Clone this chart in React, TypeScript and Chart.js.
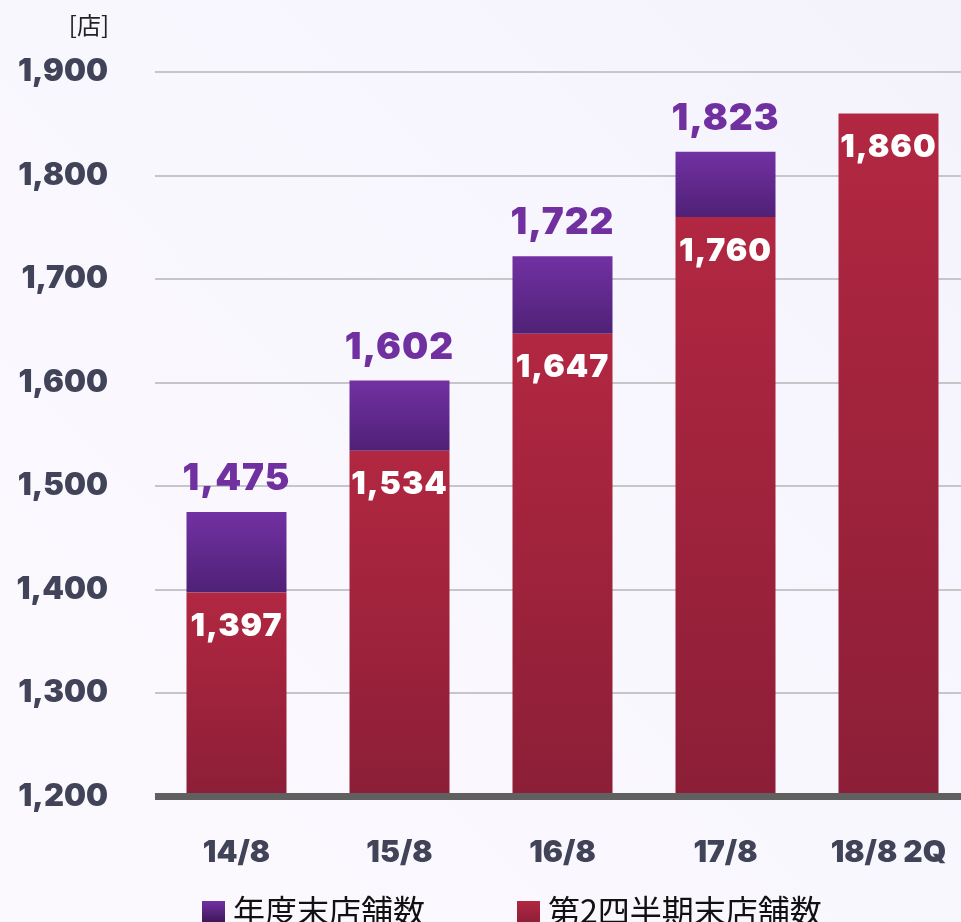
import React, { useEffect, useRef } from "react";
import { Chart, registerables } from "chart.js";

Chart.register(...registerables);

const categories = ["14/8", "15/8", "16/8", "17/8", "18/8 2Q"];
const q2Stores = [1397, 1534, 1647, 1760, 1860];
const yearEndStores: (number | null)[] = [1475, 1602, 1722, 1823, null];
const yTicks = [1200, 1300, 1400, 1500, 1600, 1700, 1800, 1900];
const unitLabel = "[店]";
const legendYearEnd = "年度末店舗数";
const legendQ2 = "第2四半期末店舗数";

const NUM_FONT = "Inter, 'DejaVu Sans', sans-serif";
const JP_FONT = "'Noto Sans CJK JP', sans-serif";

const fmt = (v: number) => v.toLocaleString("en-US");

export default function App() {
  const ref = useRef<HTMLCanvasElement | null>(null);

  useEffect(() => {
    document.body.style.margin = "0";
    const canvas = ref.current;
    if (!canvas) return;

    const ok = (...n: number[]) => n.every((v) => Number.isFinite(v));

    const redGrad = (ctx: any) => {
      const chart = ctx.chart;
      const area = chart.chartArea;
      const y = chart.scales?.y;
      const i = ctx.dataIndex;
      if (!area || !y || i === undefined) return "#a82340";
      const top = y.getPixelForValue(q2Stores[i]);
      if (!ok(top, area.bottom) || top >= area.bottom) return "#a82340";
      const g = chart.ctx.createLinearGradient(0, top, 0, area.bottom);
      g.addColorStop(0, "#b22741");
      g.addColorStop(1, "#8c1e37");
      return g;
    };
    const purpleGrad = (ctx: any) => {
      const chart = ctx.chart;
      const y = chart.scales?.y;
      const i = ctx.dataIndex;
      if (!y || i === undefined || yearEndStores[i] == null) return "#6a2c9a";
      const top = y.getPixelForValue(yearEndStores[i] as number);
      const bottom = y.getPixelForValue(q2Stores[i]);
      if (!ok(top, bottom) || top >= bottom) return "#6a2c9a";
      const g = chart.ctx.createLinearGradient(0, top, 0, bottom);
      g.addColorStop(0, "#7231a3");
      g.addColorStop(1, "#4f2176");
      return g;
    };

    const overlay = {
      id: "overlay",
      afterDatasetsDraw(chart: any) {
        const c = chart.ctx;
        const area = chart.chartArea;
        const x = chart.scales.x;
        const y = chart.scales.y;
        c.save();
        const ay = y.getPixelForValue(1200);
        c.fillStyle = "#606060";
        c.fillRect(area.left, ay - 3.5, chart.width - area.left, 7);

        c.textAlign = "center";
        c.textBaseline = "middle";
        try { (c as any).letterSpacing = "1px"; } catch (e) {}
        categories.forEach((_, i) => {
          const cx = x.getPixelForValue(i);
          c.font = `900 32px ${NUM_FONT}`;
          c.fillStyle = "#ffffff";
          const ry = y.getPixelForValue(q2Stores[i]);
          c.fillText(fmt(q2Stores[i]), cx, ry + 34);
          const ye = yearEndStores[i];
          if (ye != null) {
            c.font = `900 37px ${NUM_FONT}`;
            c.fillStyle = "#7030a0";
            const py = y.getPixelForValue(ye);
            c.fillText(fmt(ye), cx, py - 33);
          }
        });
        try { (c as any).letterSpacing = "0px"; } catch (e) {}

        c.font = `24px ${JP_FONT}`;
        c.fillStyle = "#222222";
        c.textAlign = "right";
        c.fillText(unitLabel, 109, 25);

        const drawItem = (sx: number, text: string, c1: string, c2: string) => {
          const g = c.createLinearGradient(0, 901, 0, 924);
          g.addColorStop(0, c1);
          g.addColorStop(1, c2);
          c.fillStyle = g;
          c.fillRect(sx, 901, 23, 23);
          c.fillStyle = "#111111";
          c.font = `32px ${JP_FONT}`;
          c.textAlign = "left";
          c.textBaseline = "middle";
          c.fillText(text, sx + 31, 911);
        };
        drawItem(202, legendYearEnd, "#7231a3", "#3a1450");
        drawItem(517, legendQ2, "#b22741", "#8c1e37");
        c.restore();
      },
    };

    const chart = new Chart(canvas, {
      type: "bar",
      data: {
        labels: categories,
        datasets: [
          {
            label: legendQ2,
            data: q2Stores,
            backgroundColor: redGrad,
            barPercentage: 100 / 163,
            categoryPercentage: 1,
            borderWidth: 0,
          },
          {
            label: legendYearEnd,
            data: yearEndStores.map((v, i) => (v == null ? null : [q2Stores[i], v])) as any,
            backgroundColor: purpleGrad,
            barPercentage: 100 / 163,
            categoryPercentage: 1,
            borderWidth: 0,
          },
        ],
      },
      options: {
        animation: false,
        responsive: false,
        maintainAspectRatio: false,
        devicePixelRatio: 1,
        layout: { padding: { top: 72, left: 0, right: 0, bottom: 0 } },
        plugins: {
          legend: { display: false },
          tooltip: { enabled: false },
        },
        scales: {
          x: {
            stacked: true,
            grid: { display: false },
            border: { display: false },
            ticks: {
              padding: 30,
              color: "#414359",
              font: { family: NUM_FONT, weight: "900", size: 30 },
            },
            afterFit: (s: any) => {
              s.height = 125.5;
              s.paddingLeft = 0;
              s.paddingRight = 0;
            },
          },
          y: {
            stacked: false,
            min: yTicks[0],
            max: yTicks[yTicks.length - 1],
            afterBuildTicks: (s: any) => {
              s.ticks = yTicks.map((v) => ({ value: v }));
            },
            grid: {
              color: (ctx: any) => (ctx.tick && ctx.tick.value === 1200 ? "rgba(0,0,0,0)" : "#c6c6c8"),
              lineWidth: 2,
              drawTicks: false,
            },
            border: { display: false },
            ticks: {
              padding: 47,
              color: "#414359",
              font: { family: NUM_FONT, weight: "900", size: 31 },
              callback: (v: any) => fmt(Number(v)),
            },
            afterFit: (s: any) => {
              s.width = 155;
              s.paddingTop = 0;
              s.paddingBottom = 0;
            },
          },
        },
      },
      plugins: [overlay],
    });
    chart.update();
    return () => chart.destroy();
  }, []);

  return (
    <div
      style={{
        width: 961,
        height: 922,
        overflow: "hidden",
        background: "linear-gradient(45deg, #fcf9fe 0%, #f9f7fe 50%, #f4f3fc 100%)",
      }}
    >
      <canvas ref={ref} width={970} height={922} style={{ display: "block", width: 970, height: 922 }} />
    </div>
  );
}
